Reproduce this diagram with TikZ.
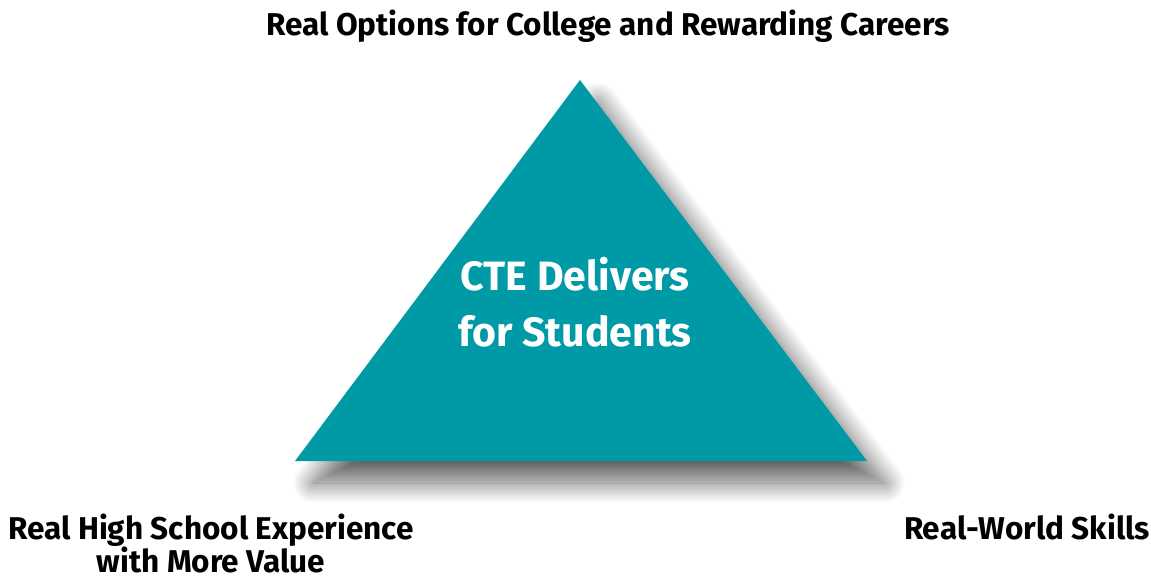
\documentclass[tikz,border=0pt]{standalone}
\usepackage{fontspec}
\setmainfont{Fira Sans}
\usetikzlibrary{shadows.blur}
\definecolor{teal1}{HTML}{009AA6}
\tikzset{
  lbl/.style={font=\bfseries\fontsize{31.5}{40}\selectfont, text=black, inner sep=0pt, anchor=base},
  ctr/.style={font=\bfseries\fontsize{41}{56}\selectfont, text=white, inner sep=0pt, anchor=base},
}
\begin{document}
\begin{tikzpicture}[x=1pt,y=-1pt]
\useasboundingbox (0,0) rectangle (1151,581);
\fill[teal1, blur shadow={shadow xshift=18pt, shadow yshift=-22pt, shadow blur radius=20pt, shadow blur steps=25, shadow opacity=60}]
  (580,80) -- (867,461) -- (295,461) -- cycle;
\node[ctr] (c1) at (575,290) {CTE Delivers};
\node[ctr] (c2) at (575,346) {for Students};
\node[lbl] (t) at (608,35) {Real Options for College and Rewarding Careers};
\node[lbl] (bl1) at (211,539) {Real High School Experience};
\node[lbl] (bl2) at (211,572) {with More Value};
\node[lbl] (br) at (1027,539) {Real-World Skills};
\end{tikzpicture}
\end{document}
